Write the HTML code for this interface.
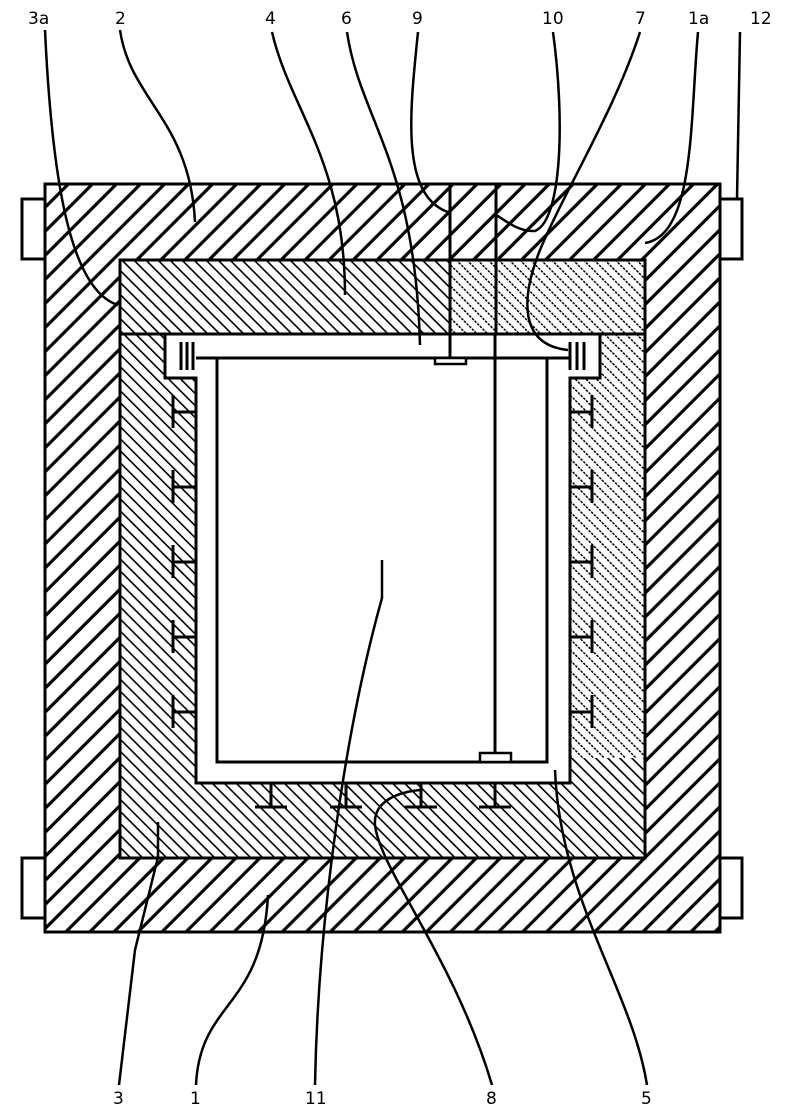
<!DOCTYPE html>
<html><head><meta charset="utf-8"><style>
html,body{margin:0;padding:0;background:#fff}
svg{display:block}
text{font-family:"DejaVu Sans","Liberation Sans",sans-serif;font-size:17px;fill:#000}
</style></head><body>
<svg width="800" height="1112" viewBox="0 0 800 1112" xmlns="http://www.w3.org/2000/svg">
<defs>
<pattern id="wide" patternUnits="userSpaceOnUse" width="17" height="17" patternTransform="rotate(45)">
<line x1="8.5" y1="0" x2="8.5" y2="17" stroke="#000" stroke-width="3.2"/>
</pattern>
<pattern id="fine" patternUnits="userSpaceOnUse" width="8.5" height="8.5" patternTransform="rotate(-45)">
<line x1="4.25" y1="0" x2="4.25" y2="8.5" stroke="#000" stroke-width="1.6"/>
</pattern>
<pattern id="dot" patternUnits="userSpaceOnUse" width="7.5" height="7.5" patternTransform="rotate(-45)">
<line x1="3.75" y1="0" x2="3.75" y2="7.5" stroke="#000" stroke-width="1.5" stroke-dasharray="2.5 1.2"/>
</pattern>
</defs>
<g stroke="#000" stroke-width="3" fill="none">
<rect x="22" y="199" width="23" height="60" fill="#fff"/>
<rect x="22" y="858" width="23" height="60" fill="#fff"/>
<rect x="720" y="199" width="22" height="60" fill="#fff"/>
<rect x="720" y="858" width="22" height="60" fill="#fff"/>
<rect x="45" y="184" width="675" height="748" fill="url(#wide)"/>
<rect x="120" y="260" width="525" height="598" fill="#fff"/>
<rect x="120" y="260" width="330" height="74" fill="url(#fine)"/>
<rect x="450" y="260" width="46" height="74" fill="url(#dot)"/>
<rect x="496" y="260" width="149" height="74" fill="url(#dot)"/>
<rect x="120" y="334" width="525" height="524" fill="url(#fine)"/>
<rect x="540" y="334" width="105" height="424" fill="#fff" stroke="none"/>
<rect x="540" y="334" width="105" height="424" fill="url(#dot)" stroke="none"/>
<rect x="120" y="334" width="525" height="524"/>
<line x1="450" y1="184" x2="450" y2="334"/>
<line x1="496" y1="184" x2="496" y2="334"/>
<path d="M165,334 L600,334 L600,378 L570,378 L570,783 L196,783 L196,378 L165,378 Z" fill="#fff"/>
<rect x="217" y="358" width="330" height="404" fill="#fff"/>
<line x1="196" y1="358" x2="217" y2="358"/>
<line x1="547" y1="358" x2="570" y2="358"/>
<line x1="450" y1="334" x2="450" y2="358"/>
<rect x="435" y="358" width="31" height="6" fill="#fff" stroke-width="2.5"/>
<line x1="495" y1="334" x2="495" y2="753"/>
<rect x="480" y="753" width="31" height="9" fill="#fff" stroke-width="2.5"/>
<path d="M181,342V370M187,342V370M193,342V370M570,342V370M577,342V370M584,342V370"/>
<path d="M173,395V428M173,412H196 M173,470V503M173,487H196 M173,545V578M173,562H196 M173,620V653M173,637H196 M173,695V728M173,712H196"/>
<path d="M592,395V428M592,412H570 M592,470V503M592,487H570 M592,545V578M592,562H570 M592,620V653M592,637H570 M592,695V728M592,712H570"/>
<path d="M271,783V807M255,807H287 M346,783V807M330,807H362 M421,783V807M405,807H437 M495,783V807M479,807H511"/>
<g stroke-width="2.5">
<path d="M45,30 C52,180 70,290 118,305"/>
<path d="M120,30 C130,100 190,120 195,222"/>
<path d="M272,32 C290,110 345,160 345,295"/>
<path d="M347,32 C360,120 415,160 420,345"/>
<path d="M418,32 C410,110 400,195 448,212"/>
<path d="M553,32 C565,120 562,220 535,231 C518,232 505,220 496,215"/>
<path d="M640,32 C615,110 565,190 540,250 C520,300 520,345 568,350"/>
<path d="M698,32 C690,120 695,235 645,243"/>
<path d="M740,32 L737,199"/>
<path d="M119,1085 L135,950 L158,857 L158,822"/>
<path d="M196,1085 C200,1000 262,1010 268,895"/>
<path d="M315,1085 C318,920 345,730 382,598 L382,560"/>
<path d="M492,1085 C455,960 380,870 375,825 C373,800 400,792 420,790"/>
<path d="M647,1085 C632,990 560,900 555,770"/>
</g>
</g>
<text x="28" y="24">3a</text>
<text x="115" y="24">2</text>
<text x="265" y="24">4</text>
<text x="341" y="24">6</text>
<text x="412" y="24">9</text>
<text x="542" y="24">10</text>
<text x="635" y="24">7</text>
<text x="688" y="24">1a</text>
<text x="750" y="24">12</text>
<text x="113" y="1104">3</text>
<text x="190" y="1104">1</text>
<text x="305" y="1104">11</text>
<text x="486" y="1104">8</text>
<text x="641" y="1104">5</text>
</svg>
</body></html>
